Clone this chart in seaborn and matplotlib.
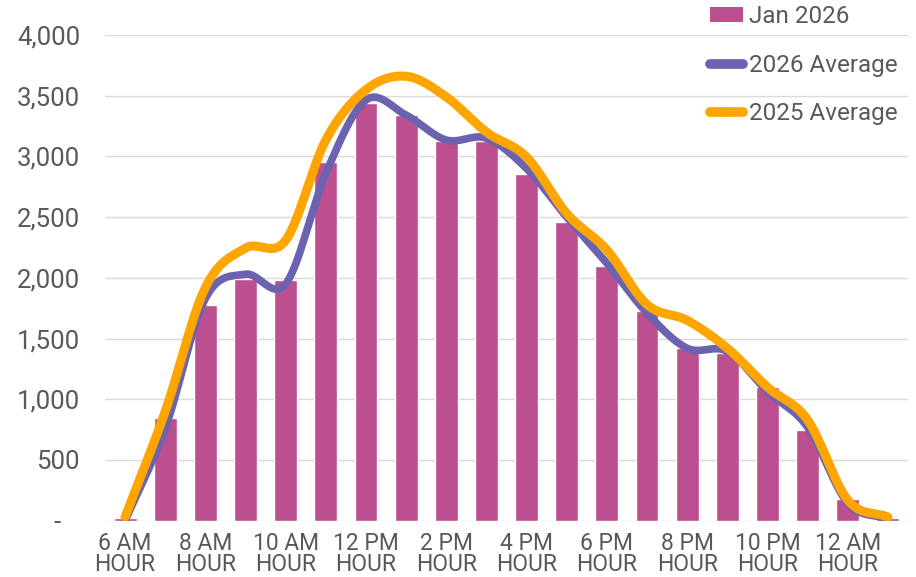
import numpy as np
import pandas as pd
import matplotlib.pyplot as plt
import seaborn as sns
from matplotlib.patches import Patch
from matplotlib.lines import Line2D

# hourly totals, 6 AM through 1 AM
hours = ["6 AM", "7 AM", "8 AM", "9 AM", "10 AM", "11 AM", "12 PM", "1 PM",
         "2 PM", "3 PM", "4 PM", "5 PM", "6 PM", "7 PM", "8 PM", "9 PM",
         "10 PM", "11 PM", "12 AM", "1 AM"]
jan_2026 = [20, 845, 1775, 1990, 1985, 2950, 3440, 3340, 3130, 3130,
            2855, 2460, 2100, 1730, 1425, 1380, 1100, 750, 180, 20]
avg_2026 = [0, 760, 1830, 2030, 1950, 2860, 3465, 3340, 3135, 3150,
            2900, 2500, 2120, 1710, 1420, 1395, 1065, 770, 145, 15]
avg_2025 = [30, 900, 1920, 2245, 2310, 3135, 3550, 3660, 3490, 3200,
            2995, 2530, 2230, 1780, 1650, 1420, 1100, 830, 170, 30]

BAR_COLOR = "#BC4F8F"
PURPLE = "#6C63B0"
ORANGE = "#FFA500"
TEXT = "#595959"


def smooth(xs, ys, steps=30):
    """Excel-style smoothed line (Bezier with 1/6 control points)."""
    pts = np.column_stack([xs, ys]).astype(float)
    # reflect the end points so the ends run straight
    padded = np.vstack([2 * pts[0] - pts[1], pts, 2 * pts[-1] - pts[-2]])
    out = []
    t = np.linspace(0, 1, steps, endpoint=False)[:, None]
    for i in range(1, len(padded) - 2):
        p0, p1, p2, p3 = padded[i - 1], padded[i], padded[i + 1], padded[i + 2]
        c1 = p1 + (p2 - p0) / 6
        c2 = p2 - (p3 - p1) / 6
        seg = ((1 - t) ** 3) * p1 + 3 * ((1 - t) ** 2) * t * c1 + 3 * (1 - t) * t ** 2 * c2 + t ** 3 * p2
        out.append(seg)
    out.append(pts[-1][None, :])
    out = np.vstack(out)
    return out[:, 0], out[:, 1]


df = pd.DataFrame({"pos": np.arange(len(hours)), "hour": hours, "jan": jan_2026})

sns.set_theme(style="white")
plt.rcParams["font.family"] = ["Roboto", "DejaVu Sans"]

fig = plt.figure(figsize=(9.16, 5.77), dpi=100)
ax = fig.add_axes([105 / 916, (577 - 520.7) / 577, 803 / 916, 485.7 / 577])

sns.barplot(data=df, x="pos", y="jan", native_scale=True, width=0.57,
            color=BAR_COLOR, saturation=1, ax=ax, zorder=2)

for vals, col, lw in [(avg_2026, PURPLE, 5.5), (avg_2025, ORANGE, 6.5)]:
    sx, sy = smooth(df["pos"].values, vals)
    sns.lineplot(x=sx, y=sy, sort=False, color=col, linewidth=lw, ax=ax,
                 solid_capstyle="round", zorder=3)

ax.set_xlim(-0.5, len(hours) - 0.5)
ax.set_ylim(0, 4000)
ax.set_yticks(np.arange(0, 4001, 500))
ax.set_yticklabels(["-   " if v == 0 else f"{v:,}" for v in range(0, 4001, 500)])
ticks = list(range(0, len(hours), 2))
ax.set_xticks(ticks)
ax.set_xticklabels([f"{hours[i]}\nHOUR" for i in ticks], linespacing=0.88)
ax.tick_params(axis="y", length=0, pad=18, labelsize=18.5, labelcolor=TEXT)
ax.tick_params(axis="x", length=0, pad=8, labelsize=16.5, labelcolor=TEXT)
ax.grid(axis="y", color="#D9D9D9", linewidth=1.0, zorder=0)
ax.set_axisbelow(True)
for s in ax.spines.values():
    s.set_visible(False)
ax.set_xlabel("")
ax.set_ylabel("")

handles = [
    Patch(facecolor=BAR_COLOR, edgecolor="none"),
    Line2D([], [], color=PURPLE, linewidth=7, solid_capstyle="round"),
    Line2D([], [], color=ORANGE, linewidth=7, solid_capstyle="round"),
]
fig.legend(handles, ["Jan 2026", "2026 Average", "2025 Average"],
           loc="upper left", bbox_to_anchor=(710 / 916, 1 - 5 / 577),
           frameon=False, fontsize=17.5, labelcolor=TEXT,
           handlelength=1.35, handleheight=0.55, handletextpad=0.25,
           labelspacing=1.05, borderpad=0, borderaxespad=0)

fig.savefig("out.png", dpi=100)
